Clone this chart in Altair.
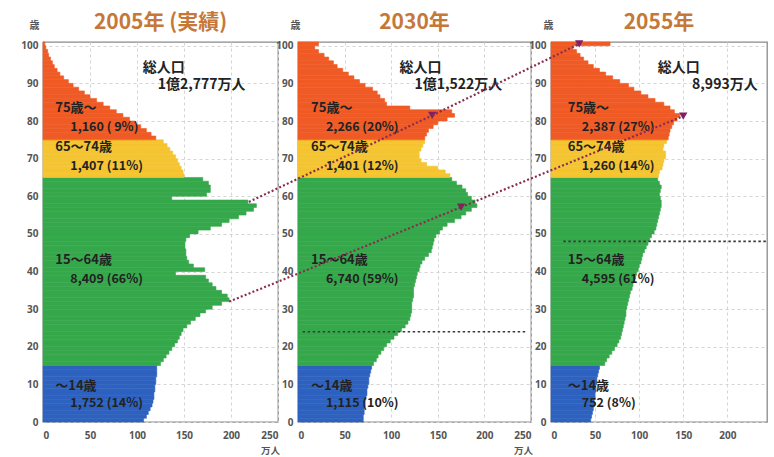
import altair as alt
import pandas as pd

# ---------------- data ----------------
YEARS = [2005, 2030, 2055]
TITLES = ["2005年 (実績)", "2030年", "2055年"]
AGES = list(range(101))

POP_2005 = [107, 110, 112, 114, 116, 117, 118, 118, 119, 119, 120, 120, 121, 121, 121,
            125, 128, 131, 134, 137, 140, 143, 145, 147, 149,
            153, 157, 162, 167, 173, 180, 190, 198, 196, 190,
            184, 180, 176, 173, 141, 172, 160, 155, 153, 152,
            152, 151, 151, 152, 156, 165, 178, 190, 198, 208,
            216, 224, 227, 218, 137, 174, 178, 178, 176, 170,
            150, 149, 147, 145, 143, 141, 138, 135, 132, 128,
            120, 115, 110, 104, 98, 92, 85, 78, 71, 64,
            57, 50, 44, 38, 32, 27, 22, 18, 15, 12,
            10, 8, 6, 5, 3, 2]
POP_2030 = [70, 70, 71, 71, 72, 72, 73, 74, 74, 75, 76, 76, 77, 78, 79,
            81, 84, 86, 89, 92, 95, 99, 103, 107, 111,
            115, 118, 120, 121, 122, 122, 122, 123, 124, 124,
            124, 125, 126, 127, 128, 130, 131, 133, 136, 140,
            143, 144, 145, 146, 148, 152, 155, 160, 168, 175,
            180, 186, 192, 190, 186, 182, 180, 176, 170, 165,
            163, 158, 150, 138, 132, 130, 130, 132, 134, 136,
            136, 138, 140, 145, 150, 160, 168, 165, 120, 95,
            93, 88, 85, 80, 72, 66, 60, 54, 48, 42,
            38, 33, 28, 22, 18, 22]
POP_2055 = [45, 46, 47, 48, 49, 49, 50, 50, 51, 51, 52, 52, 53, 54, 55,
            61, 63, 66, 69, 72, 75, 77, 79, 80, 81,
            82, 83, 84, 85, 85, 86, 87, 88, 89, 90,
            92, 93, 94, 96, 97, 99, 100, 102, 103, 104,
            106, 108, 110, 112, 114, 117, 119, 120, 121, 122,
            123, 124, 125, 125, 124, 123, 124, 125, 123, 121,
            122, 123, 126, 127, 128, 130, 130, 127, 128, 131,
            133, 134, 135, 137, 139, 143, 146, 140, 135, 128,
            118, 110, 102, 94, 88, 78, 70, 62, 55, 48,
            42, 37, 33, 29, 25, 67]
POPS = [POP_2005, POP_2030, POP_2055]

GROUPS = ["～14歳", "15～64歳", "65～74歳", "75歳～"]
GROUP_COLORS = ["#2E62C0", "#35A84B", "#F5C431", "#EF5A25"]
GROUP_VALUES = [
    ["1,752 (14%)", "8,409 (66%)", "1,407 (11%)", "1,160 ( 9%)"],
    ["1,115 (10%)", "6,740 (59%)", "1,401 (12%)", "2,266 (20%)"],
    ["752 (8%)", "4,595 (61%)", "1,260 (14%)", "2,387 (27%)"],
]
TOTAL_HEAD = "総人口"
TOTALS = ["1億2,777万人", "1億1,522万人", "8,993万人"]

# cohorts followed across panels (age, 万人)
BOOMER_AGE = [58.5, 81.5, 100.5]
BOOMER_VAL = [219, 144, 32]
JUNIOR_AGE = [32.0, 57.1, 81.3]
JUNIOR_VAL = [198, 175, 150]

# boundary of those born after 2005
NEWBORN_AGE = [None, 24, 48]

X_TICKS = [0, 50, 100, 150, 200, 250]
Y_TICKS = list(range(0, 101, 10))

# ---------------- layout ----------------
PANEL_W = [235, 233, 216]
X_MAX = [250, 250, 245]
PANEL_H = 380
GAP = 20
NAME_X = [13, 14, 19]
NUM_X = [29, 30, 35]
NAME_AGE = [9.5, 43, 73, 83.5]
NUM_AGE = [5, 38, 68, 78.5]
TOT_HEAD_X = [106, 109, 121]
TOT_VAL_X = [122, 125, 160]
TOT_AGE = [94, 89.5]
NEWBORN_X = [(0, 0), (5, 244), (14, 245)]
YTITLE_X = [-9, -3, -3]

FONT = "Noto Sans CJK JP"
TITLE_COLOR = "#C57838"
COHORT_COLOR = "#8A2C50"


def k(i):
    return PANEL_W[i] / X_MAX[i]


def offset(i):
    return sum(PANEL_W[:i]) + GAP * i


def convert(v, src, dst):
    px = v * k(src) + offset(src)
    return (px - offset(dst)) / k(dst)


def group_of(a):
    if a < 15:
        return GROUPS[0]
    if a < 65:
        return GROUPS[1]
    if a < 75:
        return GROUPS[2]
    return GROUPS[3]


def panel(i):
    w = PANEL_W[i]
    xs = alt.Scale(domain=[0, X_MAX[i]], nice=False, zero=False)
    ys = alt.Scale(domain=[0, 101], nice=False, zero=False)
    xvals = [t for t in X_TICKS if t <= X_MAX[i]]
    last = X_MAX[i] >= 250
    xaxis = alt.Axis(values=xvals, grid=True, gridDash=[3, 3], gridColor="#d4d4d4",
                     domain=False, ticks=False, labelPadding=8, labelFontSize=10,
                     labelFont="Noto Sans", labelFontWeight="bold", labelColor="#555",
                     title="万人" if last else None, titleX=w - 8, titleY=23,
                     titleAlign="center", titleBaseline="top", titleFontSize=9.5,
                     titleFont=FONT, titleFontWeight="bold", titleColor="#555")
    yaxis = alt.Axis(values=Y_TICKS, grid=True, gridDash=[3, 3], gridColor="#d4d4d4",
                     domain=False, ticks=False, labelPadding=5, labelFontSize=10,
                     labelFont="Noto Sans", labelFontWeight="bold", labelColor="#555",
                     title="歳", titleAngle=0, titleX=YTITLE_X[i], titleY=-12,
                     titleAlign="center", titleBaseline="bottom", titleFontSize=10,
                     titleFont=FONT, titleFontWeight="bold", titleColor="#555")

    def X(f):
        return alt.X(f, type="quantitative", scale=xs, axis=xaxis)

    def Y(f):
        return alt.Y(f, type="quantitative", scale=ys, axis=yaxis)

    bars_df = pd.DataFrame({"a": AGES, "v": POPS[i]})
    bars_df["a2"] = bars_df["a"] + 1
    bars_df["v0"] = 0
    bars_df["grp"] = [group_of(a) for a in AGES]
    cscale = alt.Scale(domain=GROUPS, range=GROUP_COLORS)
    bars = alt.Chart(bars_df).mark_rect(strokeWidth=0.6).encode(
        x=X("v0"), x2="v", y=Y("a"), y2="a2",
        color=alt.Color("grp:N", scale=cscale, legend=None),
        stroke=alt.Stroke("grp:N", scale=cscale, legend=None),
    )
    layers = [bars]

    if NEWBORN_AGE[i] is not None:
        nb = pd.DataFrame({"v": [NEWBORN_X[i][0]], "v2": [NEWBORN_X[i][1]], "a": [NEWBORN_AGE[i]]})
        layers.append(alt.Chart(nb).mark_rule(color="#3a3a3a", strokeWidth=1.6, strokeDash=[2.5, 2.5]).encode(
            x=X("v"), x2="v2", y=Y("a")))

    names = pd.DataFrame({"v": [NAME_X[i]] * 4, "a": NAME_AGE, "t": GROUPS})
    nums = pd.DataFrame({"v": [NUM_X[i]] * 4, "a": NUM_AGE, "t": GROUP_VALUES[i]})
    tots = pd.DataFrame({"v": [TOT_HEAD_X[i], TOT_VAL_X[i]], "a": TOT_AGE,
                         "t": [TOTAL_HEAD, TOTALS[i]]})
    layers.append(alt.Chart(names).mark_text(align="left", baseline="middle", font=FONT,
                                             fontSize=13, fontWeight="bold", color="#222").encode(
        x=X("v"), y=Y("a"), text="t:N"))
    layers.append(alt.Chart(nums).mark_text(align="left", baseline="middle", font=FONT,
                                            fontSize=12.5, fontWeight="bold", color="#222").encode(
        x=X("v"), y=Y("a"), text="t:N"))
    layers.append(alt.Chart(tots).mark_text(align="left", baseline="middle", font=FONT,
                                            fontSize=14, fontWeight="bold", color="#222").encode(
        x=X("v"), y=Y("a"), text="t:N"))

    if i > 0:
        rows = []
        pts = []
        for name, ages, vals in (("boomer", BOOMER_AGE, BOOMER_VAL), ("junior", JUNIOR_AGE, JUNIOR_VAL)):
            rows.append({"c": name, "s": 0, "v": convert(vals[i - 1], i - 1, i), "a": ages[i - 1]})
            rows.append({"c": name, "s": 1, "v": vals[i], "a": ages[i]})
            pts.append({"v": vals[i], "a": ages[i]})
        lines = pd.DataFrame(rows)
        layers.append(alt.Chart(lines).mark_line(color=COHORT_COLOR, strokeWidth=2.2,
                                                 strokeDash=[2, 2.2]).encode(
            x=X("v"), y=Y("a"), detail="c:N", order="s:Q"))
        layers.append(alt.Chart(pd.DataFrame(pts)).mark_point(shape="triangle-down", filled=True,
                                                              size=70, opacity=1, color="#7E2063").encode(
            x=X("v"), y=Y("a")))

    return alt.layer(*layers).properties(
        width=w, height=PANEL_H,
        title=alt.TitleParams(text=TITLES[i], fontSize=21, font=FONT, fontWeight="bold",
                              color=TITLE_COLOR, offset=-13, anchor="middle"),
    )


chart = alt.hconcat(panel(0), panel(1), panel(2), spacing=GAP, bounds="flush").properties(
    padding={"left": 20, "top": 11, "right": 0, "bottom": 0},
    background="white",
).configure_view(stroke="#8a8a8a", strokeWidth=1.3)

chart.save("out.html", embed_options={"renderer": "svg", "actions": False})
